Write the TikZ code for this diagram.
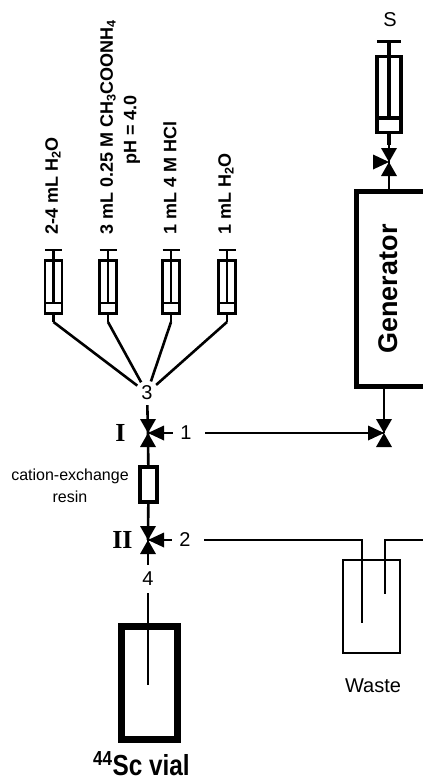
\documentclass[tikz,border=0pt]{standalone}
\usepackage{fontspec}
\setmainfont{Liberation Sans}
\newfontfamily\romanfont{Liberation Serif}
\usetikzlibrary{calc}
\tikzset{
	tube/.style={line width=2.6pt},
	thintube/.style={line width=2pt},
	digit/.style={circle, inner sep=0, font=\fontsize{20}{22}\selectfont},
	reagent/.style={rotate=90, anchor=west, inner sep=0, font=\bfseries\fontsize{18}{20}\selectfont},
	romanlabel/.style={inner sep=0, font=\romanfont\bfseries\fontsize{26}{28}\selectfont}
}
% name, position, scale, line width
\def\syringe(#1)(#2)(#3:#4){\begin{scope}[shift={(#2)}, scale=#3, line width=#4]
	\coordinate (#1) at (0, 0);
	\draw (-8.5, 0) -- (8.5, 0);
	\draw (0, 0) -- (0, 53);
	\draw (-8.3, 10.3) rectangle (8.3, 63.3);
	\draw (-8.3, 53) -- (8.3, 53);
	\draw (0, 63.3) -- (0, 72);
	\coordinate (#1end) at (0, 72);
\end{scope}}
% position, side of the third triangle (1 right, -1 left)
\def\valve(#1)(#2){
	\fill (#1) -- ++(-8, -14) -- ++(16, 0) -- cycle;
	\fill (#1) -- ++(-8, 14) -- ++(16, 0) -- cycle;
	\fill (#1) -- ++(#2*16, -7.5) -- ++(0, 15) -- cycle;
}
\begin{document}
\begin{tikzpicture}[x=1pt, y=-1pt]
	%%%%% START %%%%%
	\useasboundingbox (0, 0) rectangle (423, 780);
	
	\syringe(sa)(53.5, 250)(1:2.5pt);
	\syringe(sb)(108, 250)(1:2.5pt);
	\syringe(sc)(171, 250)(1:2.5pt);
	\syringe(sd)(227, 250)(1:2.5pt);
	\syringe(se)(389, 41.5)(1.44:3.5pt);
	
	\node[reagent] (la) at (53, 235) {2-4 mL H\textsubscript{2}O};
	\node[reagent] (lb) at (108, 235) {3 mL 0.25 M CH\textsubscript{3}COONH\textsubscript{4}};
	\node[rotate=90, inner sep=0, font=\bfseries\fontsize{18}{20}\selectfont] (lph) at (132, 130) {pH = 4.0};
	\node[reagent] (lc) at (170, 235) {1 mL 4 M HCl};
	\node[reagent] (ld) at (226, 235) {1 mL H\textsubscript{2}O};
	\node[inner sep=0, font=\fontsize{20}{22}\selectfont] (ls) at (390, 20) {S};
	
	\node[digit, minimum size=24pt] (n3) at (147, 393) {3};
	\node[digit, minimum size=26pt] (n1) at (186, 433) {1};
	\node[digit, minimum size=26pt] (n2) at (185, 540) {2};
	\node[digit, minimum size=28pt] (n4) at (148, 579) {4};
	
	\coordinate (va) at (148, 433);
	\coordinate (vb) at (148, 540);
	\coordinate (vc) at (384, 433);
	\coordinate (vd) at (389, 162);
	\coordinate (gentop) at (389, 190);
	\coordinate (genbot) at (384, 388);
	
	\draw[tube] (saend) -- (n3);
	\draw[tube] (sbend) -- (n3);
	\draw[tube] (scend) -- (n3);
	\draw[tube] (sdend) -- (n3);
	\draw[tube] (n3) -- (va);
	\draw[tube] (n1) -- (va);
	\draw[tube, shorten <=6pt] (n1) -- (vc);
	\draw[tube] (genbot) -- (vc);
	\draw[tube] (seend) -- (vd) -- (gentop);
	
	\draw[line width=5pt] (423, 191.5) -- (356.5, 191.5) -- (356.5, 386.5) -- (423, 386.5);
	\node[rotate=90, inner sep=0, font=\bfseries\fontsize{27}{29}\selectfont] (gen) at (388, 289) {Generator};
	
	\node[draw, line width=4pt, minimum width=17pt, minimum height=35pt, inner sep=0] (resin) at (148.5, 484.5) {};
	\node[align=center, inner sep=0, font=\fontsize{16}{22}\selectfont] (lresin) at (70, 486) {cation-exchange\\resin};
	\draw[tube] (va) -- (resin);
	\draw[tube] (resin) -- (vb);
	\draw[tube] (n2) -- (vb);
	\draw[tube] (vb) -- (n4);
	
	\valve(va)(1);
	\valve(vb)(1);
	\valve(vc)(-1);
	\valve(vd)(-1);
	
	\node[romanlabel] (li) at (120.5, 433) {I};
	\node[romanlabel] (lii) at (122.5, 540) {II};
	
	\node[draw, line width=2pt, minimum width=57pt, minimum height=93pt, inner sep=0] (waste) at (371.5, 606.5) {};
	\node[inner sep=0, font=\fontsize{20}{22}\selectfont] (lwaste) at (373, 686) {Waste};
	\coordinate (wa) at (362, 623);
	\coordinate (wb) at (385, 594);
	\coordinate (wc) at (423, 540);
	\draw[thintube, shorten <=6pt] (n2) -| (wa);
	\draw[thintube] (wc) -| (wb);
	
	\node[draw, line width=7pt, minimum width=56pt, minimum height=113pt, inner sep=0] (vial) at (149.5, 683) {};
	\coordinate (vialin) at (148, 685);
	\draw[tube] (n4) -- (vialin);
	\node[inner sep=0, anchor=base, font=\bfseries\fontsize{29}{31}\selectfont] (lvial) at (141.5, 775) {\scalebox{0.84}[1]{\textsuperscript{44}Sc vial}};
	
	%%%%% END %%%%%
\end{tikzpicture}
\end{document}
